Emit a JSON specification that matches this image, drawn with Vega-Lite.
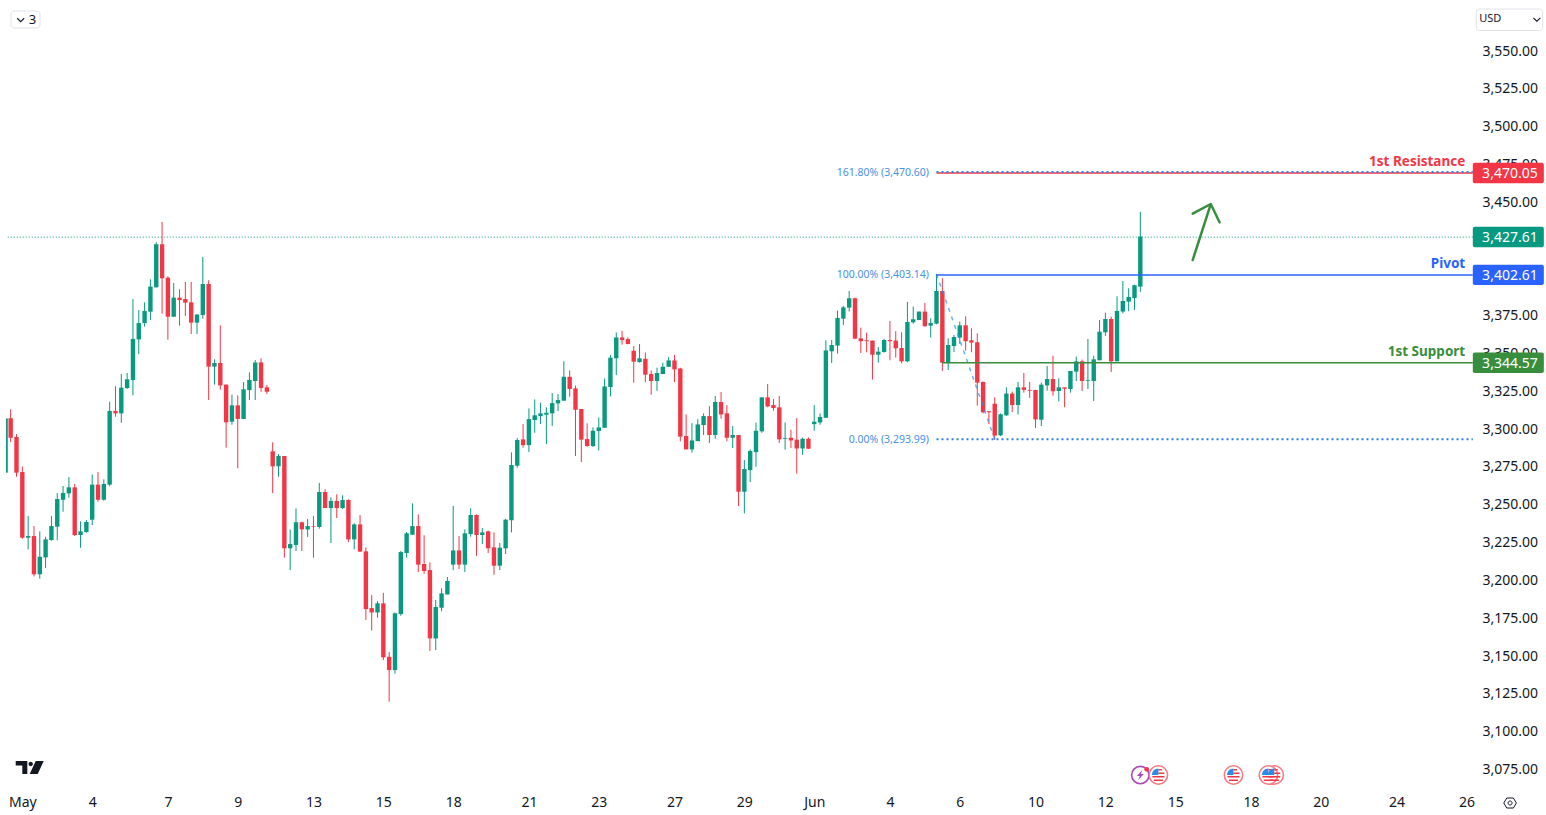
{
  "$schema": "https://vega.github.io/schema/vega-lite/v6.json",
  "autosize": "none",
  "width": 1546,
  "height": 815,
  "padding": 0,
  "background": "white",
  "config": {"view": {"stroke": null}, "font": "Noto Sans"},
  "datasets": {
    "candles": [
      {"i":0,"o":3307.8,"h":3313.8,"l":3292.2,"c":3295.0},{"i":1,"o":3295.5,"h":3297.4,"l":3269.2,"c":3271.9},{"i":2,"o":3272.3,"h":3276.1,"l":3228.2,"c":3228.9},{"i":3,"o":3228.9,"h":3243.2,"l":3221.2,"c":3230.0},{"i":4,"o":3230.0,"h":3236.6,"l":3203.3,"c":3204.7},{"i":5,"o":3204.7,"h":3233.1,"l":3201.8,"c":3216.3},{"i":6,"o":3215.9,"h":3229.6,"l":3208.9,"c":3227.8},{"i":7,"o":3227.4,"h":3243.2,"l":3226.9,"c":3236.6},{"i":8,"o":3236.2,"h":3258.4,"l":3227.2,"c":3254.5},{"i":9,"o":3254.0,"h":3263.1,"l":3246.1,"c":3258.4},
      {"i":10,"o":3258.2,"h":3269.0,"l":3255.4,"c":3262.2},{"i":11,"o":3262.2,"h":3264.4,"l":3230.0,"c":3230.7},{"i":12,"o":3230.7,"h":3239.7,"l":3222.3,"c":3233.1},{"i":13,"o":3232.7,"h":3240.6,"l":3232.2,"c":3239.3},{"i":14,"o":3240.8,"h":3270.6,"l":3237.3,"c":3264.0},{"i":15,"o":3264.0,"h":3272.3,"l":3252.7,"c":3254.0},{"i":16,"o":3254.0,"h":3267.5,"l":3253.4,"c":3264.4},{"i":17,"o":3264.0,"h":3318.8,"l":3262.9,"c":3312.7},{"i":18,"o":3312.7,"h":3329.0,"l":3308.9,"c":3311.1},{"i":19,"o":3311.1,"h":3337.1,"l":3304.9,"c":3328.1},
      {"i":20,"o":3327.9,"h":3337.8,"l":3327.2,"c":3333.6},{"i":21,"o":3333.2,"h":3386.7,"l":3323.0,"c":3360.3},{"i":22,"o":3360.0,"h":3379.4,"l":3350.3,"c":3370.8},{"i":23,"o":3370.8,"h":3384.5,"l":3368.4,"c":3378.8},{"i":24,"o":3378.3,"h":3399.7,"l":3372.8,"c":3394.9},{"i":25,"o":3394.4,"h":3424.2,"l":3394.4,"c":3422.9},{"i":26,"o":3422.9,"h":3437.6,"l":3377.0,"c":3400.4},{"i":27,"o":3400.8,"h":3401.7,"l":3359.8,"c":3375.0},{"i":28,"o":3375.0,"h":3397.3,"l":3374.8,"c":3387.6},{"i":29,"o":3387.6,"h":3393.1,"l":3369.1,"c":3386.0},
      {"i":30,"o":3386.7,"h":3398.0,"l":3375.5,"c":3384.3},{"i":31,"o":3384.5,"h":3398.0,"l":3363.6,"c":3371.1},{"i":32,"o":3371.1,"h":3376.8,"l":3363.6,"c":3376.4},{"i":33,"o":3376.1,"h":3414.5,"l":3373.7,"c":3396.6},{"i":34,"o":3396.6,"h":3399.1,"l":3319.9,"c":3342.0},{"i":35,"o":3342.0,"h":3346.8,"l":3330.1,"c":3344.4},{"i":36,"o":3344.4,"h":3369.3,"l":3326.8,"c":3329.6},{"i":37,"o":3330.1,"h":3330.3,"l":3288.4,"c":3305.2},{"i":38,"o":3305.6,"h":3323.4,"l":3303.6,"c":3316.4},{"i":39,"o":3316.4,"h":3323.0,"l":3274.8,"c":3307.4},
      {"i":40,"o":3307.4,"h":3331.8,"l":3307.4,"c":3327.0},{"i":41,"o":3326.5,"h":3338.2,"l":3319.9,"c":3333.2},{"i":42,"o":3332.5,"h":3346.4,"l":3319.9,"c":3344.8},{"i":43,"o":3344.8,"h":3347.5,"l":3325.4,"c":3327.9},{"i":44,"o":3328.3,"h":3329.9,"l":3323.9,"c":3325.4},{"i":45,"o":3286.0,"h":3292.0,"l":3258.4,"c":3276.1},{"i":46,"o":3276.1,"h":3284.2,"l":3269.2,"c":3282.9},{"i":47,"o":3282.9,"h":3282.9,"l":3215.7,"c":3221.9},{"i":48,"o":3221.9,"h":3234.4,"l":3207.5,"c":3224.7},{"i":49,"o":3224.1,"h":3248.3,"l":3220.1,"c":3239.1},
      {"i":50,"o":3239.1,"h":3239.5,"l":3220.1,"c":3234.4},{"i":51,"o":3234.4,"h":3241.3,"l":3229.4,"c":3236.6},{"i":52,"o":3236.6,"h":3243.2,"l":3215.7,"c":3236.2},{"i":53,"o":3236.0,"h":3265.1,"l":3234.9,"c":3259.1},{"i":54,"o":3259.1,"h":3260.9,"l":3248.5,"c":3248.5},{"i":55,"o":3248.5,"h":3255.6,"l":3225.4,"c":3253.2},{"i":56,"o":3253.2,"h":3257.6,"l":3241.9,"c":3248.5},{"i":57,"o":3248.5,"h":3256.9,"l":3247.9,"c":3253.8},{"i":58,"o":3253.8,"h":3254.3,"l":3226.0,"c":3227.8},{"i":59,"o":3227.8,"h":3238.4,"l":3221.2,"c":3237.7},
      {"i":60,"o":3237.7,"h":3243.9,"l":3219.7,"c":3219.7},{"i":61,"o":3219.9,"h":3222.5,"l":3174.5,"c":3181.7},{"i":62,"o":3182.4,"h":3191.0,"l":3167.6,"c":3179.5},{"i":63,"o":3179.5,"h":3187.0,"l":3176.0,"c":3185.5},{"i":64,"o":3185.5,"h":3192.5,"l":3148.0,"c":3149.8},{"i":65,"o":3150.2,"h":3153.3,"l":3120.5,"c":3141.4},{"i":66,"o":3141.4,"h":3179.5,"l":3139.0,"c":3178.9},{"i":67,"o":3178.4,"h":3220.1,"l":3177.3,"c":3219.4},{"i":68,"o":3218.8,"h":3232.7,"l":3215.7,"c":3231.8},{"i":69,"o":3230.9,"h":3251.6,"l":3230.9,"c":3236.6},
      {"i":70,"o":3236.6,"h":3244.3,"l":3206.2,"c":3211.1},{"i":71,"o":3211.5,"h":3230.5,"l":3205.1,"c":3206.9},{"i":72,"o":3207.5,"h":3212.6,"l":3154.0,"c":3162.3},{"i":73,"o":3162.3,"h":3187.7,"l":3154.6,"c":3183.1},{"i":74,"o":3182.6,"h":3195.4,"l":3180.2,"c":3192.1},{"i":75,"o":3191.4,"h":3202.9,"l":3191.4,"c":3200.3},{"i":76,"o":3211.1,"h":3249.9,"l":3207.5,"c":3220.5},{"i":77,"o":3220.5,"h":3230.0,"l":3208.2,"c":3211.1},{"i":78,"o":3211.1,"h":3234.4,"l":3206.2,"c":3231.8},{"i":79,"o":3231.3,"h":3248.3,"l":3229.6,"c":3243.9},
      {"i":80,"o":3243.9,"h":3244.3,"l":3217.0,"c":3230.7},{"i":81,"o":3230.7,"h":3235.3,"l":3224.7,"c":3232.4},{"i":82,"o":3233.1,"h":3233.5,"l":3218.8,"c":3221.9},{"i":83,"o":3222.5,"h":3232.4,"l":3204.4,"c":3210.4},{"i":84,"o":3210.4,"h":3225.4,"l":3207.5,"c":3222.3},{"i":85,"o":3221.9,"h":3241.3,"l":3218.1,"c":3240.8},{"i":86,"o":3240.4,"h":3285.3,"l":3232.4,"c":3277.0},{"i":87,"o":3276.5,"h":3294.8,"l":3275.2,"c":3293.5},{"i":88,"o":3293.9,"h":3304.0,"l":3288.4,"c":3290.1},{"i":89,"o":3290.1,"h":3314.4,"l":3285.5,"c":3307.3},
      {"i":90,"o":3306.7,"h":3320.3,"l":3298.3,"c":3309.8},{"i":91,"o":3309.3,"h":3318.1,"l":3304.0,"c":3311.1},{"i":92,"o":3310.2,"h":3315.1,"l":3290.8,"c":3311.5},{"i":93,"o":3311.1,"h":3324.5,"l":3302.7,"c":3317.9},{"i":94,"o":3317.7,"h":3323.9,"l":3312.6,"c":3319.9},{"i":95,"o":3319.5,"h":3345.5,"l":3319.5,"c":3335.3},{"i":96,"o":3335.3,"h":3339.5,"l":3322.1,"c":3327.2},{"i":97,"o":3327.6,"h":3329.4,"l":3282.9,"c":3313.5},{"i":98,"o":3314.0,"h":3314.0,"l":3278.9,"c":3293.7},{"i":99,"o":3294.1,"h":3304.5,"l":3289.0,"c":3289.5},
      {"i":100,"o":3289.5,"h":3301.8,"l":3288.8,"c":3299.6},{"i":101,"o":3299.4,"h":3308.4,"l":3286.6,"c":3301.8},{"i":102,"o":3301.6,"h":3334.2,"l":3301.4,"c":3328.9},{"i":103,"o":3328.5,"h":3349.7,"l":3322.3,"c":3347.9},{"i":104,"o":3347.5,"h":3364.6,"l":3336.4,"c":3361.3},{"i":105,"o":3361.3,"h":3365.7,"l":3356.5,"c":3359.6},{"i":106,"o":3360.2,"h":3361.3,"l":3356.9,"c":3356.9},{"i":107,"o":3352.5,"h":3355.6,"l":3331.4,"c":3345.3},{"i":108,"o":3345.0,"h":3356.9,"l":3344.6,"c":3347.5},{"i":109,"o":3347.2,"h":3351.4,"l":3331.8,"c":3336.7},
      {"i":110,"o":3337.1,"h":3339.5,"l":3323.4,"c":3332.5},{"i":111,"o":3332.5,"h":3341.3,"l":3326.1,"c":3337.8},{"i":112,"o":3337.1,"h":3344.6,"l":3337.1,"c":3341.9},{"i":113,"o":3341.9,"h":3348.3,"l":3341.9,"c":3346.1},{"i":114,"o":3346.1,"h":3349.7,"l":3331.8,"c":3340.2},{"i":115,"o":3340.8,"h":3341.3,"l":3292.6,"c":3295.7},{"i":116,"o":3296.1,"h":3310.4,"l":3287.3,"c":3287.3},{"i":117,"o":3287.3,"h":3304.7,"l":3285.1,"c":3293.2},{"i":118,"o":3292.8,"h":3307.3,"l":3292.6,"c":3303.8},{"i":119,"o":3303.4,"h":3311.1,"l":3296.8,"c":3309.3},
      {"i":120,"o":3309.3,"h":3315.9,"l":3291.5,"c":3296.8},{"i":121,"o":3296.8,"h":3322.6,"l":3294.3,"c":3318.6},{"i":122,"o":3318.6,"h":3325.2,"l":3307.6,"c":3310.4},{"i":123,"o":3311.1,"h":3316.6,"l":3292.6,"c":3295.0},{"i":124,"o":3295.0,"h":3302.7,"l":3288.2,"c":3296.8},{"i":125,"o":3296.8,"h":3296.8,"l":3249.8,"c":3259.3},{"i":126,"o":3259.3,"h":3280.2,"l":3245.0,"c":3274.3},{"i":127,"o":3273.6,"h":3287.3,"l":3265.7,"c":3286.2},{"i":128,"o":3285.5,"h":3304.9,"l":3275.8,"c":3299.6},{"i":129,"o":3299.2,"h":3321.7,"l":3298.3,"c":3321.7},
      {"i":130,"o":3321.7,"h":3330.5,"l":3315.1,"c":3315.7},{"i":131,"o":3316.6,"h":3320.6,"l":3312.9,"c":3314.6},{"i":132,"o":3315.1,"h":3322.6,"l":3291.5,"c":3293.9},{"i":133,"o":3294.3,"h":3305.1,"l":3287.1,"c":3294.8},{"i":134,"o":3295.0,"h":3300.3,"l":3288.2,"c":3293.2},{"i":135,"o":3293.7,"h":3308.0,"l":3271.2,"c":3287.9},{"i":136,"o":3287.9,"h":3295.2,"l":3283.8,"c":3294.3},{"i":137,"o":3294.3,"h":3295.2,"l":3287.7,"c":3287.7},{"i":138,"o":3304.0,"h":3316.6,"l":3299.6,"c":3305.6},{"i":139,"o":3305.1,"h":3311.1,"l":3303.6,"c":3308.7},
      {"i":140,"o":3308.2,"h":3359.4,"l":3308.2,"c":3352.7},{"i":141,"o":3352.1,"h":3359.6,"l":3344.4,"c":3356.3},{"i":142,"o":3355.9,"h":3379.0,"l":3350.6,"c":3374.2},{"i":143,"o":3373.7,"h":3382.1,"l":3369.5,"c":3381.2},{"i":144,"o":3381.0,"h":3392.0,"l":3378.4,"c":3387.2},{"i":145,"o":3387.2,"h":3387.6,"l":3360.1,"c":3360.5},{"i":146,"o":3360.7,"h":3367.8,"l":3351.0,"c":3358.8},{"i":147,"o":3359.4,"h":3364.5,"l":3351.5,"c":3358.8},{"i":148,"o":3359.2,"h":3359.2,"l":3333.4,"c":3349.9},{"i":149,"o":3349.9,"h":3355.0,"l":3344.6,"c":3351.9},
      {"i":150,"o":3351.7,"h":3360.5,"l":3351.3,"c":3359.6},{"i":151,"o":3359.6,"h":3372.2,"l":3346.2,"c":3358.8},{"i":152,"o":3359.2,"h":3365.4,"l":3348.0,"c":3354.1},{"i":153,"o":3354.3,"h":3364.7,"l":3344.2,"c":3345.5},{"i":154,"o":3345.5,"h":3384.8,"l":3344.9,"c":3371.5},{"i":155,"o":3371.3,"h":3381.7,"l":3370.4,"c":3373.3},{"i":156,"o":3372.8,"h":3378.4,"l":3372.8,"c":3378.4},{"i":157,"o":3378.4,"h":3384.1,"l":3368.4,"c":3368.7},{"i":158,"o":3369.1,"h":3374.0,"l":3361.2,"c":3370.9},{"i":159,"o":3370.4,"h":3403.3,"l":3370.0,"c":3392.0},
      {"i":160,"o":3392.0,"h":3400.4,"l":3339.1,"c":3344.6},{"i":161,"o":3344.6,"h":3360.7,"l":3339.8,"c":3356.3},{"i":162,"o":3355.6,"h":3362.9,"l":3351.7,"c":3361.6},{"i":163,"o":3361.2,"h":3371.8,"l":3357.0,"c":3369.3},{"i":164,"o":3369.3,"h":3375.3,"l":3352.6,"c":3358.8},{"i":165,"o":3359.4,"h":3367.3,"l":3351.5,"c":3357.9},{"i":166,"o":3358.1,"h":3364.0,"l":3316.2,"c":3331.4},{"i":167,"o":3331.9,"h":3332.1,"l":3311.1,"c":3311.8},{"i":168,"o":3312.5,"h":3312.5,"l":3304.1,"c":3311.8},{"i":169,"o":3317.5,"h":3321.7,"l":3293.5,"c":3296.4},
      {"i":170,"o":3296.6,"h":3311.1,"l":3296.1,"c":3310.5},{"i":171,"o":3309.8,"h":3328.3,"l":3309.4,"c":3324.2},{"i":172,"o":3324.2,"h":3325.5,"l":3312.0,"c":3316.6},{"i":173,"o":3316.6,"h":3331.9,"l":3310.5,"c":3328.3},{"i":174,"o":3328.3,"h":3337.8,"l":3324.8,"c":3326.6},{"i":175,"o":3326.6,"h":3331.9,"l":3321.3,"c":3326.1},{"i":176,"o":3326.6,"h":3326.6,"l":3301.4,"c":3307.1},{"i":177,"o":3306.9,"h":3331.4,"l":3302.8,"c":3330.1},{"i":178,"o":3329.6,"h":3342.4,"l":3326.1,"c":3333.8},{"i":179,"o":3333.8,"h":3349.2,"l":3322.8,"c":3325.7},
      {"i":180,"o":3325.9,"h":3334.3,"l":3319.0,"c":3328.3},{"i":181,"o":3328.3,"h":3328.3,"l":3315.1,"c":3327.4},{"i":182,"o":3327.2,"h":3339.1,"l":3324.8,"c":3339.1},{"i":183,"o":3338.7,"h":3348.6,"l":3332.5,"c":3345.5},{"i":184,"o":3345.5,"h":3346.6,"l":3325.9,"c":3332.5},{"i":185,"o":3332.7,"h":3360.3,"l":3327.2,"c":3333.2},{"i":186,"o":3332.5,"h":3349.2,"l":3319.3,"c":3346.8},{"i":187,"o":3346.2,"h":3372.8,"l":3346.2,"c":3365.1},{"i":188,"o":3364.7,"h":3377.7,"l":3362.3,"c":3373.5},{"i":189,"o":3373.5,"h":3375.0,"l":3338.4,"c":3345.5},
      {"i":190,"o":3345.5,"h":3388.5,"l":3345.5,"c":3378.8},{"i":191,"o":3378.4,"h":3398.6,"l":3377.2,"c":3385.4},{"i":192,"o":3385.0,"h":3393.8,"l":3378.6,"c":3388.1},{"i":193,"o":3387.4,"h":3396.2,"l":3379.5,"c":3395.8},{"i":194,"o":3394.9,"h":3444.3,"l":3391.4,"c":3428.0}
    ],
    "levels": [
      {"kind":"resistance","from":159,"to":251.1,"price":3470.05},
      {"kind":"pivot","from":159,"to":251.1,"price":3402.61},
      {"kind":"support","from":160,"to":251.1,"price":3344.57}
    ],
    "fib": [
      {"level":"161.80% (3,470.60)","from":159,"to":251.1,"price":3470.6},
      {"level":"100.00% (3,403.14)","from":159,"to":159,"price":3403.14},
      {"level":"0.00% (3,293.99)","from":159,"to":251.1,"price":3293.99}
    ],
    "swing": [{"i":159,"price":3403.14},{"i":169,"price":3293.99}],
    "last": [{"from":-0.5,"to":251.1,"price":3427.61}],
    "edge": [{"i":-0.65,"top":3307.8,"bottom":3271.9}],
    "arrow": [
      {"n":0,"i":203.0,"price":3412.5},{"n":1,"i":206.1,"price":3449.5},{"n":2,"i":203.0,"price":3443.1},{"n":3,"i":206.1,"price":3449.5},{"n":4,"i":207.6,"price":3437.4}
    ],
    "badges": [
      {"kind":"resistance","text":"3,470.05","price":3470.05,"top":3476.8,"bottom":3463.3,"from":251.1,"to":263.3},
      {"kind":"last","text":"3,427.61","price":3427.61,"top":3434.4,"bottom":3420.9,"from":251.1,"to":263.3},
      {"kind":"pivot","text":"3,402.61","price":3402.61,"top":3409.4,"bottom":3395.9,"from":251.1,"to":263.3},
      {"kind":"support","text":"3,344.57","price":3344.57,"top":3351.3,"bottom":3337.8,"from":251.1,"to":263.3}
    ],
    "names": [
      {"kind":"resistance","text":"1st Resistance","price":3470.05,"i":249.8},
      {"kind":"pivot","text":"Pivot","price":3402.61,"i":249.8},
      {"kind":"support","text":"1st Support","price":3344.57,"i":249.8}
    ],
    "boxes": [
      {"from":0.06,"to":5.04,"top":3577.1,"bottom":3565.9},
      {"from":251.7,"to":263.1,"top":3578.4,"bottom":3564.2}
    ],
    "boxText": [
      {"text":"3","i":3.1,"price":3571.2,"size":"big"},
      {"text":"USD","i":252.2,"price":3571.5,"size":"small"}
    ],
    "chevrons": [{"i":1.72,"price":3571.2},{"i":262.1,"price":3571.5}],
    "logo": [{"i":3.27,"price":3077.0}],
    "purple": [{"i":194.0,"price":3072.0}],
    "dot": [{"i":195.1,"price":3075.8}],
    "flags": [{"i":197.1,"price":3072.0},{"i":210.0,"price":3072.0},{"i":217.0,"price":3072.0},{"i":216.0,"price":3072.0}],
    "gear": [{"i":257.5,"price":3053.5}]
  },
  "layer": [
    {
      "data": {"name": "last"},
      "mark": {"type": "rule", "color": "#089981", "strokeWidth": 1, "strokeDash": [1, 2]},
      "encoding": {
        "x": {"field": "from", "type": "quantitative",
          "scale": {"domain": [-1.832, 263.67], "nice": false, "zero": false, "padding": 0},
          "axis": {"orient": "bottom", "offset": -22, "title": null, "grid": false, "ticks": false, "domain": false,
            "values": [2,14,27,39,52,64,76,89,101,114,126,138,151,163,176,188,200,213,225,238,250],
            "labelExpr": "{'2':'May','14':'4','27':'7','39':'9','52':'13','64':'15','76':'18','89':'21','101':'23','114':'27','126':'29','138':'Jun','151':'4','163':'6','176':'10','188':'12','200':'15','213':'18','225':'20','238':'24','250':'26'}[datum.value]",
            "labelFontSize": 14, "labelColor": "#131722", "labelPadding": 2, "labelOverlap": false, "labelFlush": false, "labelBound": false}},
        "x2": {"field": "to"},
        "y": {"field": "price", "type": "quantitative",
          "scale": {"domain": [3045.58, 3584.38], "nice": false, "zero": false},
          "axis": {"orient": "right", "offset": -73, "title": null, "grid": false, "ticks": false, "domain": false,
            "values": [3075,3100,3125,3150,3175,3200,3225,3250,3275,3300,3325,3350,3375,3400,3425,3450,3475,3500,3525,3550],
            "format": ",.2f", "labelFontSize": 14, "labelColor": "#131722", "labelPadding": 9, "labelOffset": -1, "labelOverlap": false, "labelFlush": false, "labelBound": false}}
      }
    },
    {
      "data": {"name": "edge"},
      "mark": {"type": "rule", "color": "#089981", "strokeWidth": 1.8},
      "encoding": {"x": {"field": "i", "type": "quantitative"}, "y": {"field": "top", "type": "quantitative"}, "y2": {"field": "bottom"}}
    },
    {
      "data": {"name": "candles"},
      "mark": {"type": "rule", "strokeWidth": 1},
      "encoding": {
        "x": {"field": "i", "type": "quantitative"},
        "y": {"field": "l", "type": "quantitative"},
        "y2": {"field": "h"},
        "color": {"condition": {"test": "datum.c >= datum.o", "value": "#089981"}, "value": "#F23645"}
      }
    },
    {
      "data": {"name": "candles"},
      "mark": {"type": "bar", "size": 4.4, "orient": "vertical"},
      "encoding": {
        "x": {"field": "i", "type": "quantitative"},
        "y": {"field": "o", "type": "quantitative"},
        "y2": {"field": "c"},
        "color": {"condition": {"test": "datum.c >= datum.o", "value": "#089981"}, "value": "#F23645"}
      }
    },
    {
      "data": {"name": "swing"},
      "mark": {"type": "line", "color": "#2196F3", "opacity": 0.7, "strokeWidth": 1.5, "strokeDash": [4, 5]},
      "encoding": {"x": {"field": "i", "type": "quantitative"}, "y": {"field": "price", "type": "quantitative"}}
    },
    {
      "data": {"name": "levels"},
      "mark": {"type": "rule", "strokeWidth": 1.6},
      "encoding": {
        "x": {"field": "from", "type": "quantitative"},
        "x2": {"field": "to"},
        "y": {"field": "price", "type": "quantitative"},
        "color": {"field": "kind", "type": "nominal", "legend": null,
          "scale": {"domain": ["resistance", "last", "pivot", "support"], "range": ["#F23645", "#089981", "#2962FF", "#388E3C"]}}
      }
    },
    {
      "data": {"name": "fib"},
      "transform": [{"filter": "datum.to > datum.from"}],
      "mark": {"type": "rule", "color": "#2F80ED", "strokeWidth": 2, "strokeDash": [2, 3]},
      "encoding": {"x": {"field": "from", "type": "quantitative"}, "x2": {"field": "to"}, "y": {"field": "price", "type": "quantitative"}}
    },
    {
      "data": {"name": "fib"},
      "mark": {"type": "text", "align": "right", "baseline": "middle", "dy": 1, "fontSize": 10.5, "color": "#4A90E2"},
      "encoding": {"x": {"datum": 157.7, "type": "quantitative"}, "y": {"field": "price", "type": "quantitative"}, "text": {"field": "level"}}
    },
    {
      "data": {"name": "arrow"},
      "mark": {"type": "line", "color": "#388E3C", "strokeWidth": 2.5, "strokeCap": "round", "strokeJoin": "round"},
      "encoding": {"x": {"field": "i", "type": "quantitative"}, "y": {"field": "price", "type": "quantitative"}, "order": {"field": "n"}}
    },
    {
      "data": {"name": "badges"},
      "mark": {"type": "rect", "cornerRadius": 2},
      "encoding": {
        "x": {"field": "from", "type": "quantitative"},
        "x2": {"field": "to"},
        "y": {"field": "top", "type": "quantitative"},
        "y2": {"field": "bottom"},
        "color": {"field": "kind", "type": "nominal", "legend": null}
      }
    },
    {
      "data": {"name": "badges"},
      "mark": {"type": "text", "align": "left", "baseline": "middle", "dy": 1, "fontSize": 14, "color": "white"},
      "encoding": {"x": {"datum": 252.7, "type": "quantitative"}, "y": {"field": "price", "type": "quantitative"}, "text": {"field": "text"}}
    },
    {
      "data": {"name": "names"},
      "mark": {"type": "text", "align": "right", "baseline": "middle", "dy": -11, "fontSize": 13.5, "fontWeight": "bold"},
      "encoding": {
        "x": {"field": "i", "type": "quantitative"},
        "y": {"field": "price", "type": "quantitative"},
        "text": {"field": "text"},
        "color": {"field": "kind", "type": "nominal", "legend": null}
      }
    },
    {
      "data": {"name": "boxes"},
      "mark": {"type": "rect", "fill": "white", "stroke": "#E0E3EB", "strokeWidth": 1, "cornerRadius": 3},
      "encoding": {"x": {"field": "from", "type": "quantitative"}, "x2": {"field": "to"}, "y": {"field": "top", "type": "quantitative"}, "y2": {"field": "bottom"}}
    },
    {
      "data": {"name": "boxText"},
      "transform": [{"filter": "datum.size == 'big'"}],
      "mark": {"type": "text", "align": "left", "baseline": "middle", "fontSize": 13, "color": "#131722"},
      "encoding": {"x": {"field": "i", "type": "quantitative"}, "y": {"field": "price", "type": "quantitative"}, "text": {"field": "text"}}
    },
    {
      "data": {"name": "boxText"},
      "transform": [{"filter": "datum.size == 'small'"}],
      "mark": {"type": "text", "align": "left", "baseline": "middle", "fontSize": 11, "color": "#131722"},
      "encoding": {"x": {"field": "i", "type": "quantitative"}, "y": {"field": "price", "type": "quantitative"}, "text": {"field": "text"}}
    },
    {
      "data": {"name": "chevrons"},
      "mark": {"type": "point", "filled": false, "size": 4, "opacity": 1, "strokeWidth": 1.1, "color": "#131722", "shape": "M-3.5 -1.7 L0 1.7 L3.5 -1.7"},
      "encoding": {"x": {"field": "i", "type": "quantitative"}, "y": {"field": "price", "type": "quantitative"}}
    },
    {
      "data": {"name": "logo"},
      "mark": {"type": "point", "filled": true, "size": 4, "opacity": 1, "color": "#131722",
        "shape": "M-14 -6.5 H-2.4 V6.5 H-7.4 V-2 H-14 Z M3.2 -3.5 A2.2 2.2 0 1 1 -1.2 -3.5 A2.2 2.2 0 1 1 3.2 -3.5 Z M6 -6.5 H14 L8 6.5 H0 Z"},
      "encoding": {"x": {"field": "i", "type": "quantitative"}, "y": {"field": "price", "type": "quantitative"}}
    },
    {
      "data": {"name": "purple"},
      "layer": [
        {"mark": {"type": "point", "shape": "circle", "size": 300, "filled": true, "fill": "white", "stroke": "#AB47BC", "strokeWidth": 1.6, "opacity": 1}},
        {"mark": {"type": "point", "filled": true, "size": 4, "opacity": 1, "color": "#AB47BC", "shape": "M2 -5 L-3.5 1 H-0.5 L-2 5 L3.5 -1 H0.5 Z"}}
      ],
      "encoding": {"x": {"field": "i", "type": "quantitative"}, "y": {"field": "price", "type": "quantitative"}}
    },
    {
      "data": {"name": "flags"},
      "layer": [
        {"mark": {"type": "point", "shape": "circle", "size": 340, "filled": true, "fill": "white", "stroke": "#F77C80", "strokeWidth": 1.6, "opacity": 1}},
        {"mark": {"type": "point", "filled": true, "size": 4, "opacity": 1, "color": "#F23645",
          "shape": "M0 -6 H3.5 V-4.5 H0 Z M0 -2.5 H6 V-1 H0 Z M-6 1 H6 V2.5 H-6 Z M-4.5 4.5 H4.5 V6 H-4.5 Z"}},
        {"mark": {"type": "point", "filled": true, "size": 4, "opacity": 1, "color": "#2E8BE6", "shape": "M0 0 V-6.5 A6.5 6.5 0 0 0 -6.5 0 Z"}}
      ],
      "encoding": {"x": {"field": "i", "type": "quantitative"}, "y": {"field": "price", "type": "quantitative"}}
    },
    {
      "data": {"name": "dot"},
      "mark": {"type": "point", "shape": "circle", "size": 22, "filled": true, "color": "#F23645", "opacity": 1},
      "encoding": {"x": {"field": "i", "type": "quantitative"}, "y": {"field": "price", "type": "quantitative"}}
    },
    {
      "data": {"name": "gear"},
      "mark": {"type": "point", "filled": false, "size": 4, "opacity": 1, "strokeWidth": 1, "color": "#131722",
        "shape": "M-6.3 0 L-3.3 -5 H3.3 L6.3 0 L3.3 5 H-3.3 Z M2 0 A2 2 0 1 1 -2 0 A2 2 0 1 1 2 0 Z"},
      "encoding": {"x": {"field": "i", "type": "quantitative"}, "y": {"field": "price", "type": "quantitative"}}
    }
  ]
}
